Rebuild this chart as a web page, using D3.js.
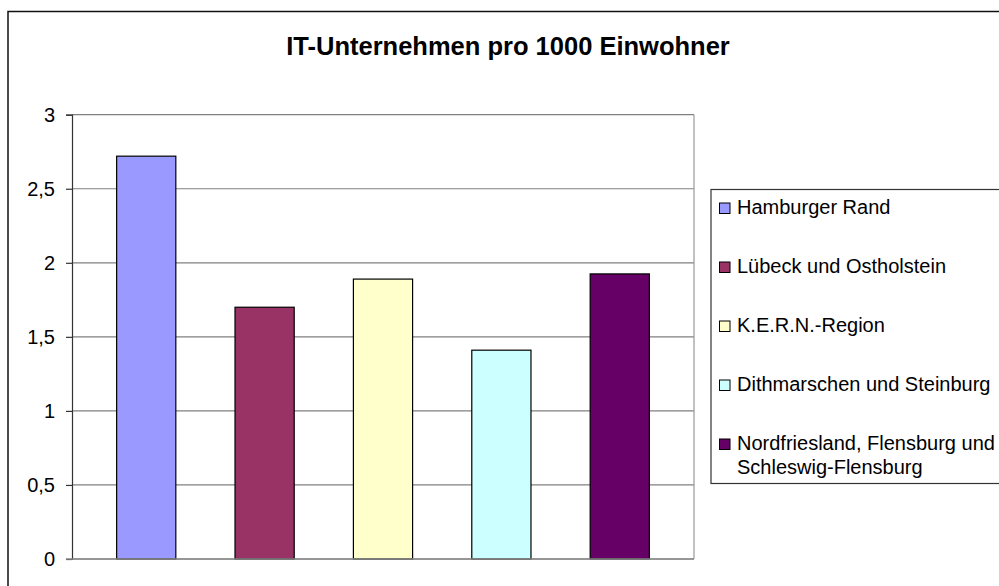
<!DOCTYPE html>
<html>
<head>
<meta charset="utf-8">
<script src="https://cdn.jsdelivr.net/npm/d3@7"></script>
<style>
  body { margin: 0; background: #fff; }
  svg { display: block; font-family: Arial, "Liberation Sans", sans-serif; }
</style>
</head>
<body>
<script>
// Daten
const regionen = [
  "Hamburger Rand",
  "Lübeck und Ostholstein",
  "K.E.R.N.-Region",
  "Dithmarschen und Steinburg",
  "Nordfriesland, Flensburg und Schleswig-Flensburg"
];
const werte = [2.72, 1.70, 1.89, 1.41, 1.925];
const farben = ["#9999ff", "#993366", "#ffffcc", "#ccffff", "#660066"];
const yTicks = [0, 0.5, 1, 1.5, 2, 2.5, 3];
const titel = "IT-Unternehmen pro 1000 Einwohner";

// Konstanten
const width = 999;
const height = 586;
const plot = { left: 72, right: 694, top: 114.7, bottom: 559 };

const svg = d3.select("body").append("svg")
  .attr("width", width).attr("height", height);

// äußerer Rahmen
svg.append("rect")
  .attr("x", 8).attr("y", 11.5).attr("width", 1100).attr("height", 700)
  .attr("fill", "#fff").attr("stroke", "#111").attr("stroke-width", 1.5);

// Titel
svg.append("text")
  .attr("x", 508).attr("y", 54.5)
  .attr("text-anchor", "middle")
  .attr("font-size", 25.5).attr("font-weight", "bold")
  .text(titel);

// Skalen
const xScale = d3.scaleBand()
  .domain(regionen)
  .range([plot.left, plot.right])
  .paddingInner(0.5)
  .paddingOuter(0.377);
const yScale = d3.scaleLinear()
  .domain([0, 3])
  .range([plot.bottom, plot.top]);

const de = d3.formatLocale({ decimal: ",", thousands: ".", grouping: [3], currency: ["", " €"] });
const fmt = de.format("~g");

// Gitternetz
svg.append("g").selectAll("line").data(yTicks).enter().append("line")
  .attr("x1", plot.left).attr("x2", plot.right)
  .attr("y1", d => yScale(d)).attr("y2", d => yScale(d))
  .attr("stroke", "#808080").attr("stroke-width", 1.2);

// rechter Rand
svg.append("line")
  .attr("x1", plot.right).attr("x2", plot.right)
  .attr("y1", plot.top).attr("y2", plot.bottom)
  .attr("stroke", "#999").attr("stroke-width", 1.2);

// Balken
svg.append("g").selectAll("rect").data(werte).enter().append("rect")
  .attr("x", (d, i) => xScale(regionen[i]))
  .attr("y", d => yScale(d))
  .attr("width", xScale.bandwidth())
  .attr("height", d => yScale(0) - yScale(d))
  .attr("fill", (d, i) => farben[i])
  .attr("stroke", "#000").attr("stroke-width", 1.2);

// y-Achse
const yAxis = svg.append("g")
  .attr("transform", `translate(${plot.left}, 0)`)
  .call(d3.axisLeft(yScale).tickValues(yTicks).tickFormat(fmt).tickSize(6).tickPadding(11));
yAxis.select(".domain").attr("stroke", "#333").attr("stroke-width", 1.2);
yAxis.selectAll(".tick line").attr("stroke", "#333").attr("stroke-width", 1.2);
yAxis.selectAll(".tick text")
  .attr("font-size", 20).attr("font-family", "Arial, 'Liberation Sans', sans-serif")
  .attr("fill", "#000");

// x-Achse
svg.append("line")
  .attr("x1", plot.left - 6).attr("x2", plot.right)
  .attr("y1", plot.bottom).attr("y2", plot.bottom)
  .attr("stroke", "#888").attr("stroke-width", 1.5);

// Legende
const legend = svg.append("g");
legend.append("rect")
  .attr("x", 711).attr("y", 189.5).attr("width", 400).attr("height", 294)
  .attr("fill", "#fff").attr("stroke", "#333").attr("stroke-width", 1.2);

const legendLines = [
  ["Hamburger Rand"],
  ["Lübeck und Ostholstein"],
  ["K.E.R.N.-Region"],
  ["Dithmarschen und Steinburg"],
  ["Nordfriesland, Flensburg und", "Schleswig-Flensburg"]
];
const eintrag = legend.selectAll("g.eintrag").data(regionen).enter().append("g")
  .attr("class", "eintrag")
  .attr("transform", (d, i) => `translate(0, ${213.5 + i * 59})`);
eintrag.append("rect")
  .attr("x", 719.5).attr("y", -10.5).attr("width", 10.5).attr("height", 10.5)
  .attr("fill", (d, i) => farben[i]).attr("stroke", "#000").attr("stroke-width", 1);
eintrag.append("text")
  .attr("x", 737).attr("y", 0)
  .attr("font-size", 20)
  .selectAll("tspan").data((d, i) => legendLines[i]).enter().append("tspan")
  .attr("x", 737).attr("dy", (d, j) => j === 0 ? 0 : 24.5)
  .text(d => d);
</script>
</body>
</html>
